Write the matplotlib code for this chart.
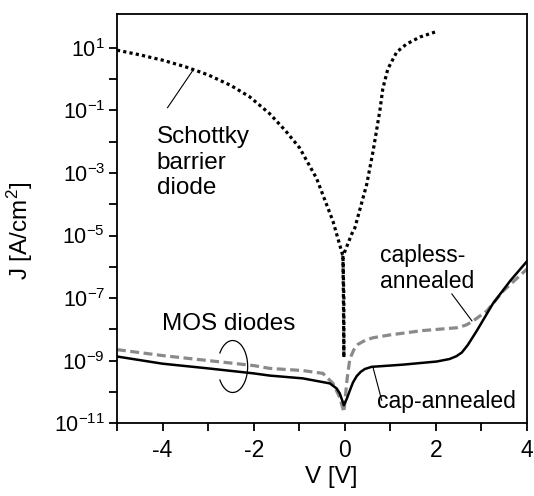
import numpy as np
import matplotlib
matplotlib.use("Agg")
import matplotlib.pyplot as plt
from matplotlib.patches import Arc

plt.rcParams["font.family"] = ["Liberation Sans", "DejaVu Sans"]
plt.rcParams["axes.unicode_minus"] = False
plt.rcParams["mathtext.fontset"] = "custom"
plt.rcParams["mathtext.rm"] = "Liberation Sans"

# Schottky barrier diode (log10 of J)
v_sbd = [-5.0, -4.5, -4.0, -3.5, -3.0, -2.5, -2.09, -1.65, -1.3, -0.99, -0.62,
         -0.26, -0.04, -0.02, -0.02, -0.03, -0.04, 0.15, 0.22, 0.48, 0.62, 0.77,
         0.835, 0.945, 1.14, 1.36, 1.65, 1.98]
logj_sbd = [0.93, 0.78, 0.61, 0.4, 0.14, -0.2, -0.56, -1.1, -1.65, -2.2, -3.17,
            -4.54, -5.66, -7.0, -8.9, -7.0, -5.66, -4.96, -4.76, -3.37, -2.31, -1.0,
            -0.3, 0.33, 0.87, 1.13, 1.35, 1.51]

# MOS diode, cap-annealed
v_cap = [-5.0, -4.0, -3.0, -2.0, -1.65, -0.92, -0.33, -0.18, -0.11, -0.02, 0.05,
         0.11, 0.18, 0.26, 0.35, 0.44, 0.59, 0.99, 1.28, 2.02, 2.3, 2.45, 2.57,
         2.7, 2.9, 3.25, 3.63, 4.0]
logj_cap = [-8.87, -9.1, -9.25, -9.41, -9.48, -9.57, -9.73, -9.89, -10.05, -10.43,
            -10.2, -9.96, -9.7, -9.5, -9.36, -9.27, -9.2, -9.16, -9.13, -9.03, -8.95,
            -8.86, -8.74, -8.5, -8.04, -7.18, -6.45, -5.82]

# MOS diode, capless-annealed
v_capless = [-5.0, -4.0, -3.0, -2.0, -1.65, -0.92, -0.48, -0.26, -0.11, -0.02,
             0.05, 0.11, 0.2, 0.29, 0.45, 0.62, 0.99, 1.71, 2.46, 2.65, 2.79, 3.12,
             3.48, 4.0]
logj_capless = [-8.65, -8.84, -9.0, -9.16, -9.25, -9.32, -9.41, -9.73, -10.18, -10.65,
                -9.6, -8.95, -8.65, -8.48, -8.35, -8.27, -8.18, -8.04, -7.95, -7.87,
                -7.76, -7.41, -6.77, -6.07]

x_ticks = [-4, -2, 0, 2, 4]
y_major = [1, -1, -3, -5, -7, -9, -11]
y_minor = [0, -2, -4, -6, -8, -10]

fig = plt.figure(figsize=(5.34, 4.96), dpi=100)
ax = fig.add_axes([0.219, 0.147, 0.768, 0.825])

ax.plot(v_sbd, 10.0 ** np.array(logj_sbd), color="black", lw=2.3,
        linestyle=(0, (1, 1)), dash_capstyle="butt")
ax.plot(v_capless, 10.0 ** np.array(logj_capless), color="#8a8a8a", lw=2.3,
        linestyle=(0, (2.8, 1.4)))
ax.plot(v_cap, 10.0 ** np.array(logj_cap), color="black", lw=1.8)

ax.set_yscale("log")
ax.set_xlim(-5, 4)
ax.set_ylim(1e-11, 10 ** 2.09)

ax.set_xticks(x_ticks)
ax.set_xticklabels([str(t) for t in x_ticks])
ax.set_xticks([-5, -3, -1, 1, 3], minor=True)
ax.set_yticks([10.0 ** e for e in y_major])
ax.set_yticklabels([r"$\mathregular{10^{%d}}$" % e for e in y_major])
ax.set_yticks([10.0 ** e for e in y_minor], minor=True)
ax.yaxis.set_minor_formatter(plt.NullFormatter())

ax.tick_params(which="both", direction="out", length=5.5, width=1.3,
               top=False, right=False)
ax.tick_params(axis="x", labelsize=16.5, pad=6)
ax.tick_params(axis="y", labelsize=15.5, pad=3)
for s in ax.spines.values():
    s.set_linewidth(1.3)

ax.set_xlabel("V [V]", fontsize=17.5)
ax.set_ylabel("J [A/cm$\\mathregular{^2}$]", fontsize=17.5)
ax.xaxis.set_label_coords(0.522, -0.105)
ax.yaxis.set_label_coords(-0.2, 0.47)

# annotations (va="baseline" anchors the last line)
ax.text(-4.13, 10 ** -3.68, "Schottky\nbarrier\ndiode", fontsize=17.5,
        va="baseline", ha="left", linespacing=1.22)
ax.plot([-3.89, -3.34], [10 ** -0.91, 10 ** 0.27], color="black", lw=0.8)

ax.text(-4.02, 10 ** -8.01, "MOS diodes", fontsize=17.5, va="baseline", ha="left")
fig.canvas.draw()
cx, cy = ax.transAxes.inverted().transform(ax.transData.transform((-2.46, 10 ** -9.19)))
ax.add_patch(Arc((cx, cy), 0.073, 0.127, theta1=-135, theta2=135,
                 transform=ax.transAxes, color="black", lw=0.9))

ax.text(0.77, 10 ** -6.68, "capless-\nannealed", fontsize=16.5, va="baseline",
        ha="left", linespacing=1.15)
ax.plot([2.35, 2.79], [10 ** -6.87, 10 ** -7.73], color="black", lw=0.8)

ax.text(0.70, 10 ** -10.53, "cap-annealed", fontsize=16.5, va="baseline", ha="left")
ax.plot([0.62, 0.81], [10 ** -9.22, 10 ** -10.27], color="black", lw=0.8)

fig.savefig("out.png", dpi=100)
